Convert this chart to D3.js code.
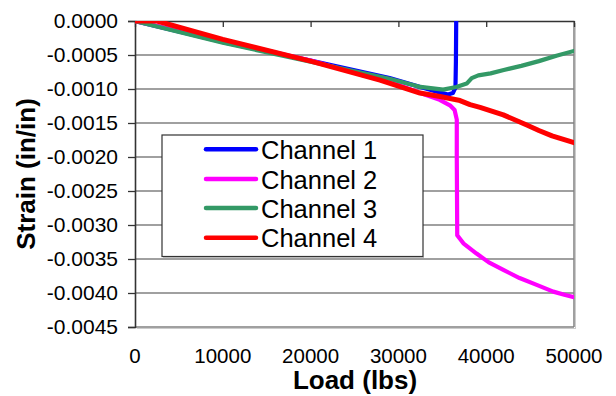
<!DOCTYPE html>
<html><head><meta charset="utf-8">
<script src="https://cdn.jsdelivr.net/npm/d3@7"></script>
<style>body{margin:0;background:#fff}svg{display:block}text{font-family:Arial,"Liberation Sans",sans-serif}</style>
</head><body><svg id="c" width="616" height="396"></svg>
<script>
const seriesNames = ["Channel 1", "Channel 2", "Channel 3", "Channel 4"];
const seriesColors = ["#0000ff", "#ff00ff", "#339966", "#ff0000"];
const xTicks = [0, 10000, 20000, 30000, 40000, 50000];
const yTicks = [0, -0.0005, -0.001, -0.0015, -0.002, -0.0025, -0.003, -0.0035, -0.004, -0.0045];

// [load (lbs), strain (in/in)]
const ch1 = [[0,0],[10000,-0.00031],[20000,-0.00058],[29000,-0.00084],[32500,-0.00097],[34700,-0.00105],[35650,-0.00108],[36200,-0.00106],[36500,-0.00098],[36550,-0.0006],[36600,0.0003]];
const ch2 = [[0,0],[10000,-0.00029],[20000,-0.00058],[30000,-0.00094],[32500,-0.00106],[34700,-0.00116],[35870,-0.00124],[36400,-0.00131],[36650,-0.00145],[36650,-0.0020],[36700,-0.00315],[37400,-0.00327],[38900,-0.00342],[40300,-0.00355],[41950,-0.00366],[43800,-0.00378],[45750,-0.00388],[47640,-0.00398],[49000,-0.00403],[50000,-0.00406]];
const ch3 = [[0,0],[10000,-0.00032],[20000,-0.00060],[29000,-0.00085],[32500,-0.00097],[35100,-0.00101],[36600,-0.00097],[37780,-0.00092],[38350,-0.00084],[39100,-0.00080],[40500,-0.00077],[42000,-0.00072],[44000,-0.00066],[46000,-0.00059],[48000,-0.00051],[50000,-0.00044]];
const ch4 = [[0,0],[2500,0],[10000,-0.00027],[20000,-0.00059],[27900,-0.00087],[32460,-0.00106],[34740,-0.00111],[37020,-0.00117],[38160,-0.00123],[39300,-0.00127],[41950,-0.00138],[44620,-0.00153],[46000,-0.00161],[47500,-0.00169],[50000,-0.00179]];
const seriesData = [ch1, ch2, ch3, ch4];

const svg = d3.select("#c");
const L = 135, R = 574, T = 21, B = 327;
const x = d3.scaleLinear().domain([0, 50000]).range([L, R]);
const y = d3.scaleLinear().domain([0, -0.0045]).range([T, B]);

// gridlines
svg.append("g").selectAll("line").data(yTicks.slice(1)).join("line")
  .attr("x1", L).attr("x2", R).attr("y1", d => y(d)).attr("y2", d => y(d))
  .attr("stroke", "#808080").attr("stroke-width", 1.3);
// right border
svg.append("line").attr("x1", R).attr("x2", R).attr("y1", T).attr("y2", B)
  .attr("stroke", "#808080").attr("stroke-width", 1.5);
svg.append("line").attr("x1", R + 1.5).attr("x2", R + 1.5).attr("y1", T + 2).attr("y2", B + 2)
  .attr("stroke", "#cccccc").attr("stroke-width", 1);
svg.append("line").attr("x1", L + 2).attr("x2", R + 2).attr("y1", B + 1.5).attr("y2", B + 1.5)
  .attr("stroke", "#cccccc").attr("stroke-width", 1);

// y axis
const yAxis = d3.axisLeft(y).tickValues(yTicks).tickSize(7).tickPadding(10);
const gy = svg.append("g").attr("transform", `translate(${L},0)`).call(yAxis);
gy.select(".domain").attr("stroke", "#333").attr("stroke-width", 1.6);
gy.selectAll(".tick line").attr("stroke", "#333").attr("stroke-width", 1.3);
gy.selectAll(".tick text").attr("font-size", 21).attr("fill", "#000").attr("font-family", "Arial, 'Liberation Sans', sans-serif")
  .text(d => d === 0 ? "0.0000" : "-" + d3.format(".4f")(Math.abs(d)));

// x axis at top (strain = 0), ticks pointing into plot
const xAxis = d3.axisBottom(x).tickValues(xTicks).tickFormat("").tickSize(6).tickSizeOuter(0);
const gx = svg.append("g").attr("transform", `translate(0,${T})`).call(xAxis);
gx.select(".domain").attr("stroke", "#333").attr("stroke-width", 1.6);
gx.selectAll(".tick line").attr("stroke", "#333").attr("stroke-width", 1.3);

// x tick labels at bottom
svg.append("g").selectAll("text").data(xTicks).join("text")
  .attr("x", d => x(d)).attr("y", 363).attr("text-anchor", "middle")
  .attr("font-size", 20.5).attr("fill", "#000").text(d => String(d));

// lines
svg.append("clipPath").attr("id", "clip").append("rect")
  .attr("x", L).attr("y", T).attr("width", R - L).attr("height", B - T);
const lineV = d3.line().x(d => x(d[0])).y(d => y(d[1]));
svg.append("g").attr("clip-path", "url(#clip)").selectAll("path").data(seriesData).join("path")
  .attr("d", d => lineV(d)).attr("fill", "none")
  .attr("stroke", (d, i) => seriesColors[i])
  .attr("stroke-width", (d, i) => i === 3 ? 5 : 4.2)
  .attr("stroke-linejoin", "round").attr("stroke-linecap", "round");

// legend
const lg = svg.append("g");
lg.append("rect").attr("x", 162).attr("y", 135).attr("width", 261).attr("height", 121.5)
  .attr("fill", "#fff").attr("stroke", "#333").attr("stroke-width", 1.2);
lg.append("line").attr("x1", 163).attr("x2", 424).attr("y1", 257.5).attr("y2", 257.5).attr("stroke", "#bbb").attr("stroke-width", 1);
const ly = [149.3, 179, 208, 237.7];
seriesNames.forEach((n, i) => {
  lg.append("line").attr("x1", 206).attr("x2", 256).attr("y1", ly[i]).attr("y2", ly[i])
    .attr("stroke", seriesColors[i]).attr("stroke-width", 4.5).attr("stroke-linecap", "round");
  lg.append("text").attr("x", 261).attr("y", ly[i] + 9.5).attr("font-size", 25.5).attr("fill", "#000").text(n);
});

// titles
svg.append("text").attr("x", 355).attr("y", 389).attr("text-anchor", "middle")
  .attr("font-size", 26).attr("font-weight", "bold").text("Load (lbs)");
svg.append("text").attr("transform", "translate(35,174) rotate(-90)").attr("text-anchor", "middle")
  .attr("font-size", 26).attr("font-weight", "bold").text("Strain (in/in)");
</script></body></html>
